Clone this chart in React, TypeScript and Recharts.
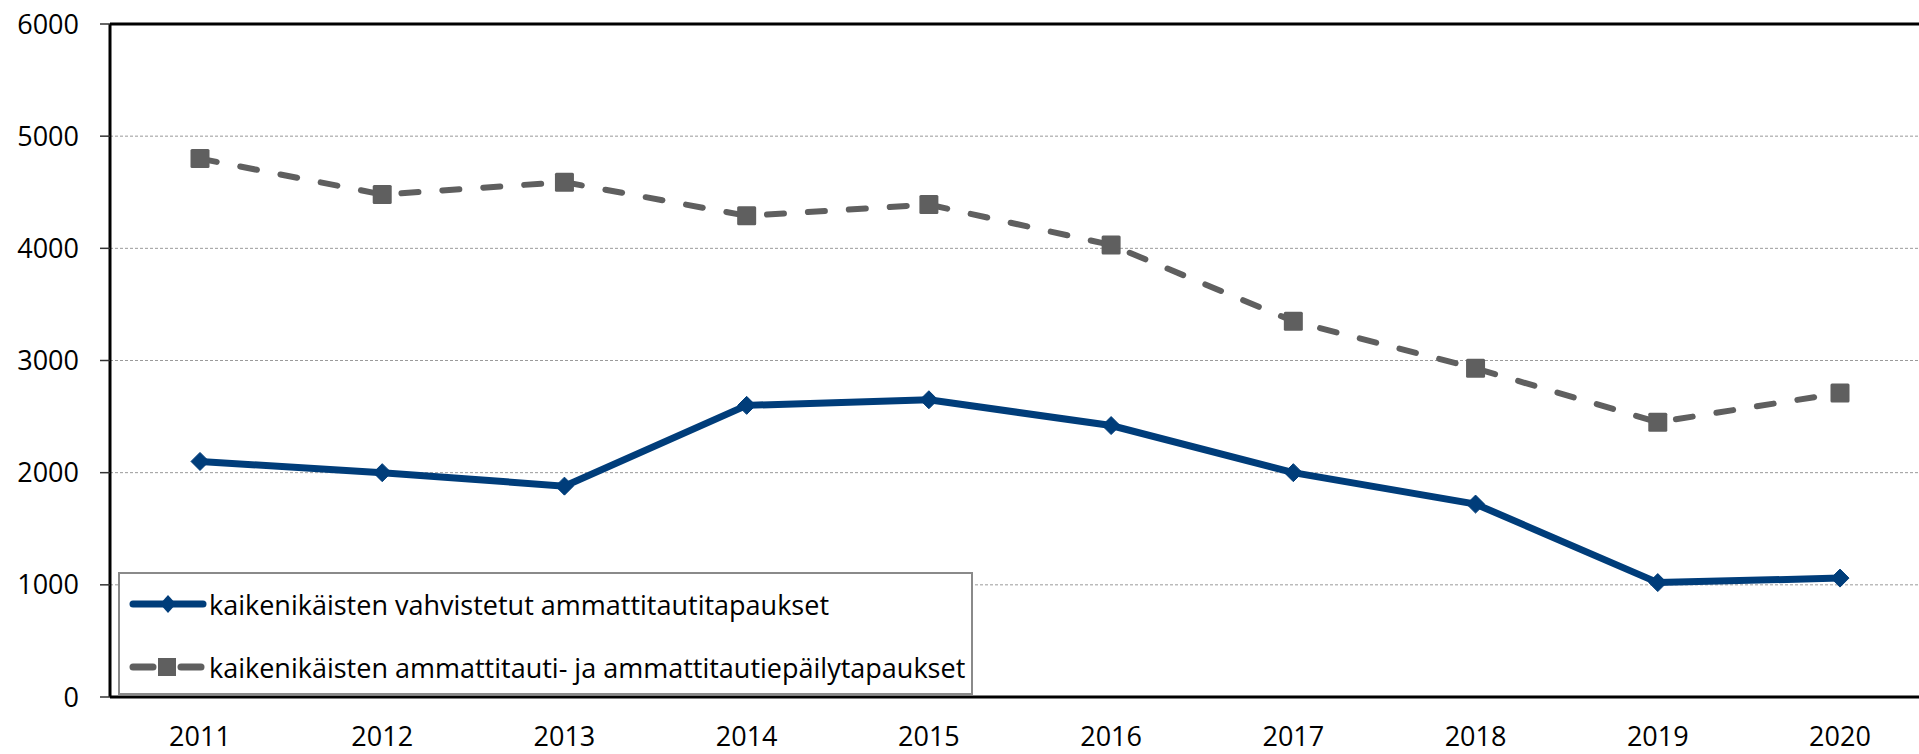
import React from 'react';
import { LineChart, Line, XAxis, YAxis, CartesianGrid, ReferenceLine, Legend } from 'recharts';

const years = ['2011', '2012', '2013', '2014', '2015', '2016', '2017', '2018', '2019', '2020'];
const confirmed = [2100, 2000, 1880, 2600, 2650, 2420, 2000, 1720, 1020, 1060];
const suspected = [4800, 4480, 4590, 4290, 4390, 4030, 3350, 2930, 2450, 2710];
const yTicks = [0, 1000, 2000, 3000, 4000, 5000, 6000];
const confirmedName = 'kaikenikäisten vahvistetut ammattitautitapaukset';
const suspectedName = 'kaikenikäisten ammattitauti- ja ammattitautiepäilytapaukset';

const data = years.map((y, i) => ({ year: y, confirmed: confirmed[i], suspected: suspected[i] }));

const BLUE = '#003d7a';
const GRAY = '#5f5f5f';
const FONT = '"Open Sans", "DejaVu Sans", sans-serif';
const FS = 27;

const Diamond = (props: any) => {
  const { cx, cy, index } = props;
  if (cx == null || cy == null) return <g key={index} />;
  const r = 9;
  return (
    <polygon
      key={index}
      points={`${cx},${cy - r} ${cx + r},${cy} ${cx},${cy + r} ${cx - r},${cy}`}
      fill={BLUE}
      stroke={BLUE}
      strokeWidth={1}
    />
  );
};

const Square = (props: any) => {
  const { cx, cy, index } = props;
  if (cx == null || cy == null) return <g key={index} />;
  const s = 19;
  return <rect key={index} x={cx - s / 2} y={cy - s / 2} width={s} height={s} rx={1.5} fill={GRAY} />;
};

const LegendContent = () => (
  <div
    style={{
      width: 855,
      height: 123,
      boxSizing: 'border-box',
      border: '2px solid #8a8a8a',
      background: '#fff',
      fontFamily: FONT,
      fontSize: FS,
      color: '#000',
      position: 'relative',
    }}
  >
    <div style={{ position: 'absolute', left: 9, top: 12, height: 36, display: 'flex', alignItems: 'center', whiteSpace: 'nowrap' }}>
      <svg width={78} height={24} style={{ marginRight: 2 }}>
        <line x1={4} y1={12} x2={74} y2={12} stroke={BLUE} strokeWidth={7} strokeLinecap="round" />
        <polygon points="39,3 47,12 39,21 31,12" fill={BLUE} />
      </svg>
      <span>{confirmedName}</span>
    </div>
    <div style={{ position: 'absolute', left: 9, top: 75, height: 36, display: 'flex', alignItems: 'center', whiteSpace: 'nowrap' }}>
      <svg width={78} height={24} style={{ marginRight: 2 }}>
        <line x1={4} y1={12} x2={24} y2={12} stroke={GRAY} strokeWidth={7} strokeLinecap="round" />
        <line x1={52} y1={12} x2={72} y2={12} stroke={GRAY} strokeWidth={7} strokeLinecap="round" />
        <rect x={29} y={3} width={18} height={18} fill={GRAY} />
      </svg>
      <span>{suspectedName}</span>
    </div>
  </div>
);

export default function App() {
  return (
    <div style={{ position: 'absolute', left: 0, top: 0, width: 1919, height: 754, background: '#fff', fontFamily: FONT }}>
      <LineChart width={1919} height={754} data={data} margin={{ top: 24, right: 0, bottom: 0, left: 0 }}>
        <CartesianGrid vertical={false} stroke="#9a9a9a" strokeDasharray="3 2" strokeWidth={1} />
        <XAxis
          dataKey="year"
          height={57}
          padding={{ left: 90, right: 79 }}
          axisLine={{ stroke: '#000', strokeWidth: 3 }}
          tickLine={false}
          tickSize={0}
          tickMargin={30}
          tick={{ fill: '#000', fontSize: FS, fontFamily: FONT }}
          interval={0}
        />
        <YAxis
          width={110}
          domain={[0, 6000]}
          ticks={yTicks}
          interval={0}
          axisLine={{ stroke: '#000', strokeWidth: 3 }}
          tickLine={{ stroke: '#333', strokeWidth: 1.5 }}
          tickSize={10}
          tickMargin={21}
          tick={{ fill: '#000', fontSize: FS, fontFamily: FONT }}
        />
        <ReferenceLine y={6000} stroke="#000" strokeWidth={3} />
        <Line
          name={suspectedName}
          dataKey="suspected"
          stroke={GRAY}
          strokeWidth={6}
          strokeDasharray="17 24"
          strokeLinecap="round"
          dot={<Square />}
          activeDot={false}
          isAnimationActive={false}
        />
        <Line
          name={confirmedName}
          dataKey="confirmed"
          stroke={BLUE}
          strokeWidth={7}
          dot={<Diamond />}
          activeDot={false}
          isAnimationActive={false}
        />
        <Legend
          layout="horizontal"
          verticalAlign="middle"
          align="center"
          content={<LegendContent />}
          wrapperStyle={{ left: 118, top: 572, width: 855, height: 123, right: 'auto', bottom: 'auto' }}
        />
      </LineChart>
    </div>
  );
}
